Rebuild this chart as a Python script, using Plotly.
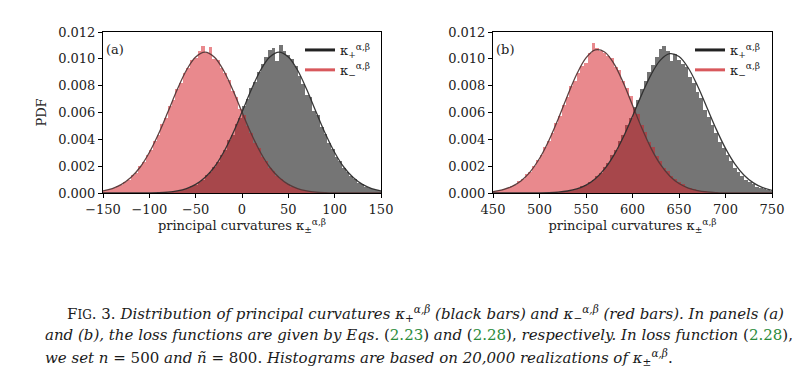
import plotly.graph_objects as go

# ---------------- data ----------------
bin_width = 4
# panel (a)
a_minus_first_center = -150
a_minus_pdf = [0.00018, 0.00020, 0.00031, 0.00036, 0.00052, 0.00062, 0.00085, 0.00099, 0.00133, 0.00152,
               0.00198, 0.00228, 0.00283, 0.00322, 0.00391, 0.00436, 0.00512, 0.00562, 0.00648, 0.00696,
               0.00778, 0.00822, 0.00897, 0.00930, 0.00992, 0.01005, 0.01062, 0.01095, 0.01040, 0.01088,
               0.01002, 0.00992, 0.00930, 0.00897, 0.00840, 0.00762, 0.00712, 0.00628, 0.00578, 0.00498,
               0.00448, 0.00376, 0.00334, 0.00272, 0.00236, 0.00188, 0.00161, 0.00125, 0.00105, 0.00079,
               0.00066, 0.00047, 0.00039, 0.00028, 0.00022, 0.00015, 0.00012, 0.00008, 0.00006, 0.00004,
               0.00003]
a_plus_first_center = -90
a_plus_pdf = [0.00004, 0.00004, 0.00007, 0.00009, 0.00013, 0.00015, 0.00023, 0.00030, 0.00036, 0.00051,
              0.00062, 0.00084, 0.00098, 0.00131, 0.00155, 0.00197, 0.00228, 0.00285, 0.00322, 0.00392,
              0.00436, 0.00515, 0.00562, 0.00646, 0.00698, 0.00785, 0.00825, 0.00905, 0.00962, 0.01010,
              0.01068, 0.01082, 0.00985, 0.01102, 0.01060, 0.01030, 0.00998, 0.00945, 0.00870, 0.00812,
              0.00728, 0.00715, 0.00612, 0.00578, 0.00492, 0.00441, 0.00372, 0.00331, 0.00268, 0.00236,
              0.00186, 0.00160, 0.00124, 0.00104, 0.00078, 0.00066, 0.00046, 0.00039, 0.00027, 0.00022,
              0.00015]
# panel (b)
b_minus_first_center = 450
b_minus_pdf = [0.00012, 0.00017, 0.00022, 0.00031, 0.00037, 0.00052, 0.00063, 0.00086, 0.00101, 0.00142,
               0.00158, 0.00205, 0.00248, 0.00280, 0.00342, 0.00386, 0.00446, 0.00521, 0.00575, 0.00655,
               0.00712, 0.00795, 0.00838, 0.00892, 0.00945, 0.00968, 0.01042, 0.01120, 0.01082, 0.01062,
               0.01045, 0.01018, 0.01006, 0.00940, 0.00918, 0.00835, 0.00780, 0.00725, 0.00636, 0.00588,
               0.00505, 0.00455, 0.00382, 0.00340, 0.00276, 0.00241, 0.00190, 0.00165, 0.00126, 0.00107,
               0.00080, 0.00067, 0.00048, 0.00040, 0.00028, 0.00022, 0.00015, 0.00012, 0.00008, 0.00006,
               0.00004]
b_plus_first_center = 510
b_plus_pdf = [0.00003, 0.00005, 0.00006, 0.00009, 0.00012, 0.00017, 0.00020, 0.00030, 0.00037, 0.00051,
              0.00062, 0.00083, 0.00099, 0.00130, 0.00152, 0.00195, 0.00226, 0.00282, 0.00318, 0.00385,
              0.00430, 0.00508, 0.00556, 0.00640, 0.00690, 0.00775, 0.00838, 0.00902, 0.00955, 0.01012,
              0.01075, 0.01098, 0.01060, 0.00985, 0.01035, 0.00995, 0.00958, 0.00940, 0.00868, 0.00820,
              0.00752, 0.00705, 0.00622, 0.00570, 0.00505, 0.00446, 0.00378, 0.00336, 0.00282, 0.00238,
              0.00185, 0.00160, 0.00125, 0.00100, 0.00081, 0.00068, 0.00047, 0.00038, 0.00029, 0.00021,
              0.00016]

# fitted curves, sampled every 10 units
a_curve_x = [-150, -140, -130, -120, -110, -100, -90, -80, -70, -60, -50, -40, -30, -20, -10, 0,
             10, 20, 30, 40, 50, 60, 70, 80, 90, 100, 110, 120, 130, 140, 150]
a_minus_curve = [0.00016, 0.00033, 0.00064, 0.00115, 0.00192, 0.00302, 0.00442, 0.00603, 0.00769, 0.00915,
                 0.01014, 0.01050, 0.01014, 0.00915, 0.00769, 0.00603, 0.00442, 0.00302, 0.00192, 0.00115,
                 0.00064, 0.00033, 0.00016, 0.00007, 0.00003, 0.00001, 0.0, 0.0, 0.0, 0.0, 0.0]
a_plus_curve = [0.0, 0.0, 0.0, 0.0, 0.000005, 0.000012, 0.00003, 0.00007, 0.00016, 0.00033,
                0.00064, 0.00115, 0.00192, 0.00302, 0.00442, 0.00603, 0.00769, 0.00915, 0.01014, 0.01050,
                0.01014, 0.00915, 0.00769, 0.00603, 0.00442, 0.00302, 0.00192, 0.00115, 0.00064, 0.00033,
                0.00016]
b_curve_x = [450, 460, 470, 480, 490, 500, 510, 520, 530, 540, 550, 560, 570, 580, 590, 600,
             610, 620, 630, 640, 650, 660, 670, 680, 690, 700, 710, 720, 730, 740, 750]
b_minus_curve = [0.000109, 0.000236, 0.000478, 0.000900, 0.001577, 0.002570, 0.003899, 0.005505, 0.007235,
                 0.008848, 0.010070, 0.010665, 0.010513, 0.009644, 0.008234, 0.006542, 0.004837, 0.003329,
                 0.002132, 0.001271, 0.000705, 0.000364, 0.000175, 0.000078, 0.000033, 0.000013, 0.000005,
                 0.0, 0.0, 0.0, 0.0]
b_plus_curve = [0.0, 0.0, 0.0, 0.0, 0.000004, 0.000011, 0.000028, 0.000067, 0.000148, 0.000305, 0.000590,
                0.001064, 0.001793, 0.002824, 0.004158, 0.005719, 0.007350, 0.008826, 0.009905, 0.010386,
                0.010177, 0.009318, 0.007973, 0.006374, 0.004762, 0.003324, 0.002168, 0.001322, 0.000753,
                0.000400, 0.000199]

y_ticks = [0.000, 0.002, 0.004, 0.006, 0.008, 0.010, 0.012]
a_xticks = [-150, -100, -50, 0, 50, 100, 150]
b_xticks = [450, 500, 550, 600, 650, 700, 750]
legend_plus = "κ<sub>+</sub><sup>α,β</sup>"
legend_minus = "κ<sub>−</sub><sup>α,β</sup>"

# ---------------- styles ----------------
SERIF = "DejaVu Serif"
GRAY_BAR = "rgba(0,0,0,0.54)"
RED_BAR = "rgba(212,28,36,0.52)"
CURVE_RED = "rgba(85,55,55,0.95)"
CURVE_BLK = "rgba(45,45,45,0.95)"


def centers(first, n):
    return [first + bin_width * i for i in range(n)]


fig = go.Figure()


def add_panel(xa, ya, plus_first, plus_pdf, minus_first, minus_pdf, cx, plus_c, minus_c, legend):
    fig.add_trace(go.Bar(x=centers(plus_first, len(plus_pdf)), y=plus_pdf, width=bin_width,
                         marker=dict(color=GRAY_BAR, line=dict(width=0)), xaxis=xa, yaxis=ya,
                         showlegend=False))
    fig.add_trace(go.Bar(x=centers(minus_first, len(minus_pdf)), y=minus_pdf, width=bin_width,
                         marker=dict(color=RED_BAR, line=dict(width=0)), xaxis=xa, yaxis=ya,
                         showlegend=False))
    fig.add_trace(go.Scatter(x=cx, y=minus_c, mode="lines", line=dict(color=CURVE_RED, width=1.3, shape="spline"),
                             xaxis=xa, yaxis=ya, showlegend=False))
    fig.add_trace(go.Scatter(x=cx, y=plus_c, mode="lines", line=dict(color=CURVE_BLK, width=1.3, shape="spline"),
                             xaxis=xa, yaxis=ya, showlegend=False))
    # legend entries
    fig.add_trace(go.Scatter(x=[None], y=[None], mode="lines", line=dict(color="#222222", width=3),
                             name=legend_plus, xaxis=xa, yaxis=ya, legend=legend))
    fig.add_trace(go.Scatter(x=[None], y=[None], mode="lines", line=dict(color="#d8585c", width=3),
                             name=legend_minus, xaxis=xa, yaxis=ya, legend=legend))


add_panel("x", "y", a_plus_first_center, a_plus_pdf, a_minus_first_center, a_minus_pdf,
          a_curve_x, a_plus_curve, a_minus_curve, "legend")
add_panel("x2", "y2", b_plus_first_center, b_plus_pdf, b_minus_first_center, b_minus_pdf,
          b_curve_x, b_plus_curve, b_minus_curve, "legend2")

W, H = 810, 380
top, bottom = 24, 185
ydom = [1 - bottom / H, 1 - top / H]

axis_common = dict(showline=True, mirror=True, linecolor="black", linewidth=1, ticks="outside",
                   ticklen=4, tickwidth=1, tickcolor="black", showgrid=False, zeroline=False,
                   automargin=False, tickfont=dict(family=SERIF, size=13, color="#222"))

xtitle = "principal curvatures κ<sub>±</sub><sup>α,β</sup>"

fig.update_layout(
    width=W, height=H, margin=dict(l=0, r=0, t=0, b=0, autoexpand=False),
    paper_bgcolor="white", plot_bgcolor="white", barmode="overlay", bargap=0,
    font=dict(family=SERIF, color="#222"),
    xaxis=dict(domain=[95 / W, 373 / W], range=[-150, 150], tickvals=a_xticks, anchor="y",
               title=dict(text=xtitle, font=dict(family=SERIF, size=13), standoff=3), **axis_common),
    yaxis=dict(domain=ydom, range=[0, 0.012], tickvals=y_ticks, tickformat=".3f", anchor="x",
               title=dict(text="PDF", font=dict(family=SERIF, size=13), standoff=8), **axis_common),
    xaxis2=dict(domain=[485 / W, 764 / W], range=[450, 750], tickvals=b_xticks, anchor="y2",
                title=dict(text=xtitle, font=dict(family=SERIF, size=13), standoff=3), **axis_common),
    yaxis2=dict(domain=ydom, range=[0, 0.012], tickvals=y_ticks, tickformat=".3f", anchor="x2",
                **axis_common),
    legend=dict(x=292 / W, y=1 - 27 / H, xanchor="left", yanchor="top", bgcolor="rgba(0,0,0,0)",
                font=dict(family=SERIF, size=13), itemwidth=30, tracegroupgap=0),
    legend2=dict(x=682 / W, y=1 - 27 / H, xanchor="left", yanchor="top", bgcolor="rgba(0,0,0,0)",
                 font=dict(family=SERIF, size=13), itemwidth=30, tracegroupgap=0),
)

# panel labels
fig.add_annotation(text="(a)", xref="x domain", yref="y domain", x=0.005, y=0.95, xanchor="left",
                   yanchor="top", showarrow=False, font=dict(family=SERIF, size=13, color="#222"))
fig.add_annotation(text="(b)", xref="x2 domain", yref="y2 domain", x=0.005, y=0.95, xanchor="left",
                   yanchor="top", showarrow=False, font=dict(family=SERIF, size=13, color="#222"))

# caption
GREEN = "#2a8a3a"
cap_font = dict(family=SERIF, size=15, color="#1a1a1a")
line1 = ("F<span style='font-size:12px'>IG</span>. 3. <i>Distribution of principal curvatures "
         "κ<sub>+</sub><sup>α,β</sup> (black bars) and κ<sub>−</sub><sup>α,β</sup> (red bars). In panels (a)</i>")
line2 = ("<i>and (b), the loss functions are given by Eqs.</i> (<span style='color:%s'>2.23</span>) <i>and</i> "
         "(<span style='color:%s'>2.28</span>), <i>respectively. In loss function</i> "
         "(<span style='color:%s'>2.28</span>)," % (GREEN, GREEN, GREEN))
line3 = ("<i>we set n</i> = 500 <i>and ñ</i> = 800. <i>Histograms are based on 20,000 realizations of "
         "κ<sub>±</sub><sup>α,β</sup></i>.")
for txt, x0, y0 in [(line1, 57, 305), (line2, 35, 327), (line3, 35, 349)]:
    fig.add_annotation(text=txt, xref="paper", yref="paper", x=x0 / W, y=1 - y0 / H, xanchor="left",
                       yanchor="middle", showarrow=False, font=cap_font)

fig.write_html("out.html")
